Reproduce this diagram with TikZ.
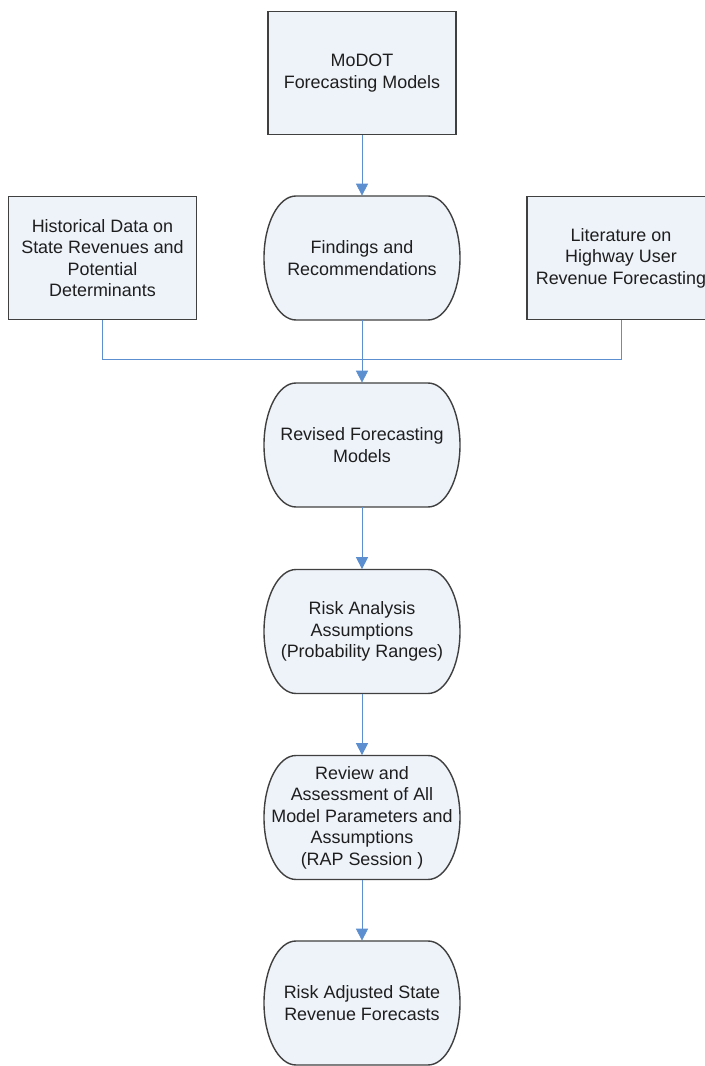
\documentclass[tikz,border=0pt]{standalone}
\usepackage{fontspec}
\setmainfont{Liberation Sans}
\usetikzlibrary{arrows.meta}
\definecolor{boxfill}{HTML}{EEF3FA}
\definecolor{boxline}{HTML}{404040}
\definecolor{flowblue}{HTML}{5B8FD0}
\definecolor{inktext}{HTML}{1E1E1E}
% outline of a terminal shape, then its text node
\newcommand{\termnode}[4]{%
  \filldraw[termline] ({#2-66},{#3+62}) -- ({#2+66},{#3+62})
    arc[start angle=90,end angle=-90,x radius=32,y radius=62]
    -- ({#2-66},{#3-62})
    arc[start angle=270,end angle=90,x radius=32,y radius=62] -- cycle;
  \node[termtext] (#1) at (#2,#3) {#4};
}
\begin{document}
\begin{tikzpicture}[x=0.02cm,y=0.02cm]
    \tikzset{
      every node/.style={font=\fontsize{10.2}{12.2}\selectfont, text=inktext},
      databox/.style={draw=boxline, fill=boxfill, line width=0.8pt,
        minimum width=3.76cm, minimum height=2.46cm, align=center, inner sep=0pt},
      termline/.style={draw=boxline, fill=boxfill, line width=0.8pt},
      termtext/.style={minimum width=3.92cm, minimum height=2.48cm, align=center, inner sep=0pt},
      flow/.style={draw=flowblue, line width=0.45pt},
      flowarrow/.style={flow, -{Triangle[width=0.24cm,length=0.24cm]}}
    }
    \useasboundingbox (0,0) rectangle (705,1066);
    % source boxes
    \node[databox] (modot) at (362,993) {MoDOT\\Forecasting Models};
    \node[databox] (hist) at (102.5,808) {Historical Data on\\State Revenues and\\Potential\\Determinants};
    \node[databox] (lit) at (621,808) {Literature on\\Highway User\\Revenue Forecasting};
    % process steps
    \termnode{findings}{362}{808}{Findings and\\Recommendations}
    \termnode{revised}{362}{621}{Revised Forecasting\\Models}
    \termnode{risk}{362}{434.5}{Risk Analysis\\Assumptions\\(Probability Ranges)}
    \termnode{review}{362}{248.5}{Review and\\Assessment of All\\Model Parameters and\\Assumptions\\(RAP Session )}
    \termnode{adjusted}{362}{63}{Risk Adjusted State\\Revenue Forecasts}
    % connectors
    \coordinate (join) at (362,707);
    \draw[flowarrow] (modot.south) -- (findings.north);
    \draw[flow] (hist.south) |- (join);
    \draw[flow] (lit.south) |- (join);
    \draw[flowarrow] (findings.south) -- (revised.north);
    \draw[flowarrow] (revised.south) -- (risk.north);
    \draw[flowarrow] (risk.south) -- (review.north);
    \draw[flowarrow] (review.south) -- (adjusted.north);
\end{tikzpicture}
\end{document}
